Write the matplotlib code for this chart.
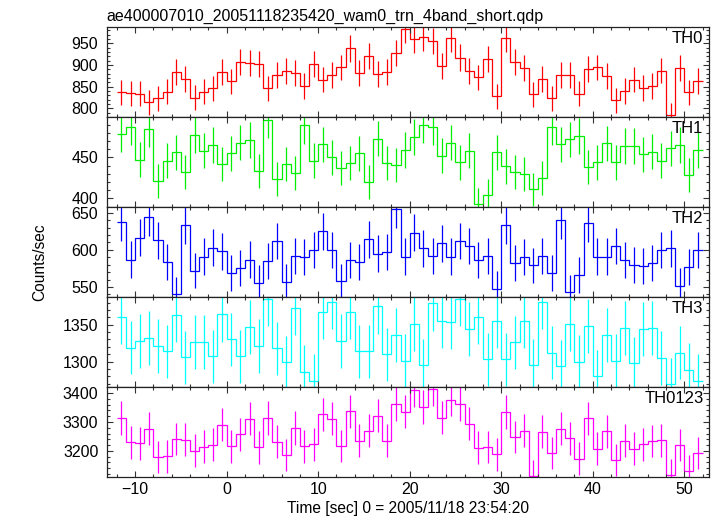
import numpy as np
import matplotlib
matplotlib.use("Agg")
import matplotlib.pyplot as plt
from matplotlib.ticker import MultipleLocator

plt.rcParams['font.family'] = ['Liberation Sans', 'DejaVu Sans']

title = "ae400007010_20051118235420_wam0_trn_4band_short.qdp"
xlabel = "Time [sec] 0 = 2005/11/18 23:54:20"
ylabel = "Counts/sec"
panel_names = ["TH0", "TH1", "TH2", "TH3", "TH0123"]

t_start = -12.0
bin_width = 1.0

TH0 = [837, 835, 833, 814, 823, 838, 883, 867, 824, 838,
       846, 883, 862, 906, 904, 901, 846, 876, 886, 882,
       851, 903, 866, 877, 894, 938, 881, 920, 879, 884,
       928, 982, 959, 964, 955, 897, 961, 917, 885, 871,
       913, 828, 961, 906, 892, 832, 867, 823, 877, 877,
       833, 891, 894, 875, 818, 840, 866, 847, 851, 887,
       785, 892, 837, 863]
TH1 = [478, 487, 447, 485, 421, 446, 456, 432, 477, 458,
       465, 442, 455, 468, 471, 433, 496, 424, 442, 431,
       489, 446, 466, 450, 437, 443, 455, 420, 473, 443,
       441, 459, 475, 490, 487, 452, 468, 444, 458, 393,
       404, 456, 439, 432, 430, 411, 425, 487, 466, 472,
       476, 438, 444, 467, 444, 464, 464, 454, 457, 446,
       461, 465, 429, 459]
TH2 = [637, 587, 616, 644, 613, 584, 540, 633, 572, 591,
       603, 598, 569, 576, 587, 556, 585, 612, 557, 592,
       590, 600, 625, 600, 558, 586, 584, 614, 595, 597,
       655, 591, 623, 602, 592, 609, 591, 612, 605, 586,
       592, 548, 633, 582, 590, 579, 592, 569, 640, 543,
       566, 636, 591, 591, 605, 586, 580, 578, 582, 600,
       602, 552, 577, 600]
TH3 = [1361, 1319, 1328, 1332, 1321, 1314, 1363, 1306, 1327, 1327,
       1307, 1364, 1330, 1307, 1347, 1321, 1385, 1318, 1299, 1373,
       1286, 1274, 1367, 1381, 1328, 1367, 1314, 1314, 1375, 1310,
       1336, 1301, 1351, 1295, 1379, 1355, 1354, 1385, 1344, 1361,
       1303, 1355, 1303, 1326, 1355, 1295, 1381, 1312, 1294, 1351,
       1300, 1348, 1280, 1336, 1301, 1345, 1298, 1344, 1346, 1305,
       1269, 1312, 1289, 1274]
TH0123 = [3314, 3229, 3226, 3276, 3178, 3181, 3241, 3238, 3200, 3215,
          3221, 3290, 3216, 3258, 3311, 3212, 3314, 3231, 3185, 3279,
          3216, 3223, 3326, 3311, 3217, 3337, 3235, 3269, 3322, 3235,
          3362, 3336, 3411, 3352, 3414, 3315, 3377, 3362, 3294, 3211,
          3213, 3188, 3335, 3248, 3269, 3114, 3266, 3192, 3276, 3243,
          3173, 3312, 3208, 3267, 3169, 3235, 3207, 3223, 3234, 3237,
          3115, 3220, 3131, 3193]

series = [TH0, TH1, TH2, TH3, TH0123]
colors = ["#ff0000", "#00ee00", "#0000ff", "#00ffff", "#ff00ff"]
ylims = [(780.6, 988), (389.8, 499.6), (537, 658), (1266, 1388), (3110.5, 3422)]
ymajor = [50, 50, 50, 50, 100]
yminor = [10, 10, 10, 10, 20]

W, H = 717, 516
fig = plt.figure(figsize=(W / 100, H / 100), dpi=100)
left = 106.7 / W
right = 709.5 / W
top_px = 26.7
panel_h = 90.0

for i, (vals, col, name) in enumerate(zip(series, colors, panel_names)):
    vals = np.asarray(vals, dtype=float)
    n = len(vals)
    edges = t_start + bin_width * np.arange(n + 1)
    centers = 0.5 * (edges[:-1] + edges[1:])
    err = np.sqrt(vals * bin_width) / bin_width
    y0 = top_px + i * panel_h
    ax = fig.add_axes([left, 1 - (y0 + panel_h) / H, right - left, panel_h / H])
    ax.stairs(vals, edges, baseline=None, color=col, lw=0.9)
    ax.errorbar(centers, vals, yerr=err, fmt='none', ecolor=col, elinewidth=0.9, capsize=0)
    ax.set_xlim(-13.1, 52.75)
    ax.set_ylim(*ylims[i])
    ax.xaxis.set_major_locator(MultipleLocator(10))
    ax.xaxis.set_minor_locator(MultipleLocator(2))
    ax.yaxis.set_major_locator(MultipleLocator(ymajor[i]))
    ax.yaxis.set_minor_locator(MultipleLocator(yminor[i]))
    ax.tick_params(which='both', direction='in', top=True, right=True, color='#333333', width=0.8)
    ax.tick_params(which='major', length=4.5, labelsize=11.5)
    ax.tick_params(which='minor', length=2.2)
    ax.tick_params(axis='y', pad=6)
    ax.tick_params(axis='x', pad=4)
    for sp in ax.spines.values():
        sp.set_linewidth(0.9)
        sp.set_color('#222222')
    if i < 4:
        ax.tick_params(labelbottom=False)
    ax.text(0.990, 0.955, name, transform=ax.transAxes, ha='right', va='top', fontsize=12)
    if i == 0:
        ax.set_title(title, loc='left', fontsize=11.5, pad=4)
    if i == 4:
        ax.set_xlabel(xlabel, fontsize=11.2, labelpad=3)

fig.text(40 / W, 1 - 262 / H, ylabel, rotation=90, ha='center', va='center', fontsize=11.2)

fig.savefig("out.png", dpi=100)
